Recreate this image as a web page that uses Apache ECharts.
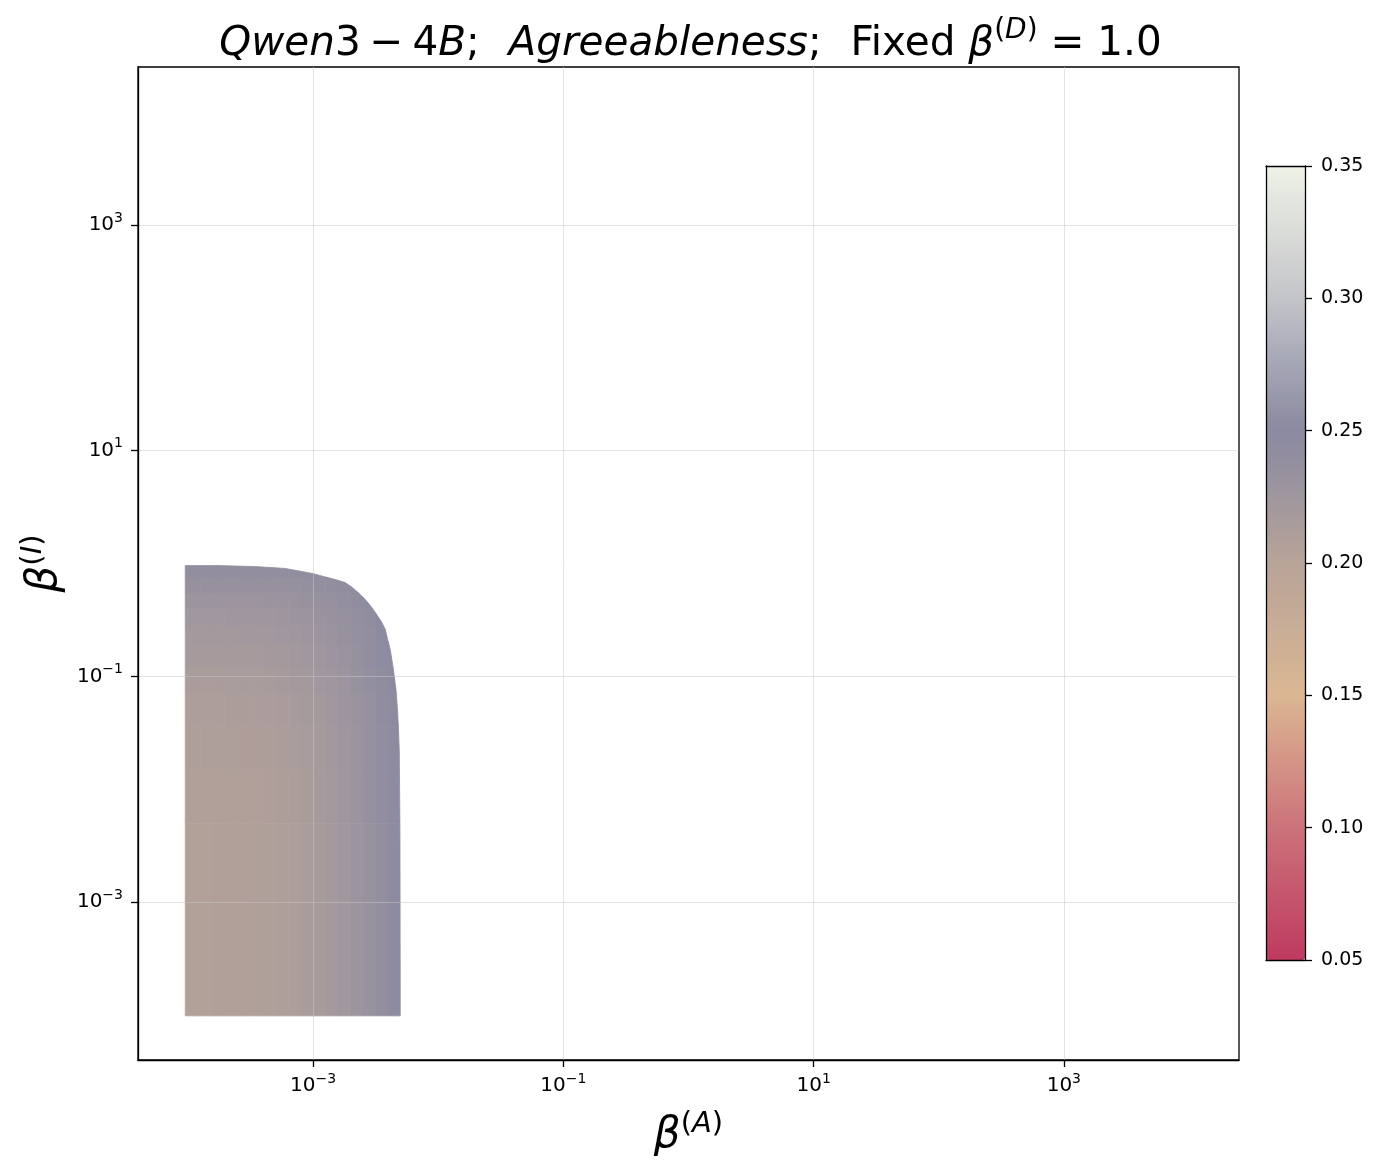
<!DOCTYPE html>
<html>
<head>
<meta charset="utf-8">
<title>Qwen3-4B Agreeableness</title>
<script src="https://cdn.jsdelivr.net/npm/echarts@6/dist/echarts.min.js"></script>
<style>
  html, body { margin: 0; padding: 0; background: #fff; }
  #chart { width: 1381px; height: 1173px; }
</style>
</head>
<body>
<div id="chart"></div>
<script>
  // beta^(A) cell edges (columns, left to right)
  var betaAEdges = [9.5e-5, 1.26e-4, 1.58e-4, 2.0e-4, 2.51e-4, 3.16e-4, 3.98e-4, 5.01e-4, 6.31e-4, 7.94e-4,
    1.0e-3, 1.26e-3, 1.58e-3, 2.0e-3, 2.51e-3, 3.16e-3, 3.98e-3, 5.0e-3]
  // beta^(I) cell edges (rows, bottom to top)
  var betaIEdges = [9.8e-5, 1e-3, 5e-3, 1.5e-2, 3.5e-2, 0.07, 0.12, 0.19, 0.28, 0.4, 0.55, 0.75, 1.0]
  // value of every cell, one row per beta^(I) band (bottom to top)
  var cellValues = [
    [0.206, 0.206, 0.207, 0.207, 0.207, 0.208, 0.208, 0.209, 0.211, 0.214, 0.216, 0.219, 0.223, 0.227, 0.233, 0.239, 0.246],
    [0.206, 0.206, 0.207, 0.207, 0.207, 0.208, 0.208, 0.209, 0.211, 0.213, 0.216, 0.219, 0.223, 0.228, 0.233, 0.239, 0.246],
    [0.207, 0.207, 0.207, 0.208, 0.208, 0.208, 0.209, 0.210, 0.212, 0.214, 0.217, 0.220, 0.224, 0.228, 0.234, 0.240, 0.246],
    [0.209, 0.209, 0.209, 0.209, 0.210, 0.210, 0.211, 0.212, 0.214, 0.216, 0.218, 0.221, 0.225, 0.229, 0.235, 0.241, 0.247],
    [0.211, 0.211, 0.211, 0.212, 0.212, 0.213, 0.213, 0.214, 0.216, 0.218, 0.220, 0.223, 0.227, 0.231, 0.236, 0.242, 0.247],
    [0.214, 0.214, 0.214, 0.215, 0.215, 0.215, 0.216, 0.217, 0.219, 0.220, 0.223, 0.225, 0.229, 0.233, 0.238, 0.243, 0.248],
    [0.217, 0.217, 0.217, 0.217, 0.218, 0.218, 0.219, 0.220, 0.221, 0.223, 0.225, 0.228, 0.231, 0.235, 0.240, 0.245, 0.248],
    [0.220, 0.220, 0.220, 0.220, 0.221, 0.221, 0.222, 0.223, 0.224, 0.226, 0.228, 0.230, 0.233, 0.237, 0.241, 0.246, 0.248],
    [0.223, 0.223, 0.223, 0.224, 0.224, 0.224, 0.225, 0.226, 0.227, 0.229, 0.231, 0.233, 0.236, 0.239, 0.243, 0.247, 0.248],
    [0.228, 0.228, 0.228, 0.228, 0.229, 0.229, 0.230, 0.230, 0.231, 0.233, 0.234, 0.236, 0.239, 0.242, 0.245, 0.248, 0.248],
    [0.234, 0.234, 0.234, 0.234, 0.234, 0.235, 0.235, 0.235, 0.236, 0.237, 0.238, 0.240, 0.242, 0.244, 0.247, 0.248, 0.248],
    [0.240, 0.240, 0.240, 0.240, 0.241, 0.241, 0.241, 0.241, 0.242, 0.243, 0.243, 0.244, 0.245, 0.247, 0.248, 0.248, 0.248]
  ]
  // outline of the filled area: top edge, round corner, right edge (top-left to bottom-right)
  var edgeBetaA = [9.5e-5, 1.74e-4, 3.44e-4, 5.97e-4, 9.82e-4, 1.50e-3, 1.80e-3, 2.05e-3, 2.29e-3, 2.61e-3,
    2.86e-3, 3.02e-3, 3.25e-3, 3.50e-3, 3.77e-3, 3.94e-3, 4.13e-3, 4.38e-3, 4.59e-3, 4.72e-3,
    4.81e-3, 4.88e-3, 4.94e-3, 4.97e-3]
  var edgeBetaI = [0.959, 0.959, 0.94, 0.904, 0.817, 0.721, 0.679, 0.614, 0.553, 0.48,
    0.425, 0.392, 0.347, 0.307, 0.261, 0.212, 0.173, 0.115, 0.0767, 0.0511,
    0.034, 0.0217, 0.00416, 9.8e-5]

  var tickExponents = [-3, -1, 1, 3]
  var colorbarTicks = [0.05, 0.10, 0.15, 0.20, 0.25, 0.30, 0.35]
  // colormap, evenly spaced from 0.05 to 0.35
  var colorStops = ['#bf3a61', '#c5566d', '#cc727a', '#d49486', '#dbb792', '#c9ad96', '#b8a498',
    '#9f969e', '#8a89a0', '#a5a6b5', '#c3c4c9', '#dadcd8', '#eef2e7']

  var FONT = 'DejaVu Sans'

  // build heatmap cells in log10 space
  var cells = []
  for (var r = 0; r < cellValues.length; r++) {
    for (var c = 0; c < cellValues[r].length; c++) {
      cells.push([
        Math.log10(betaAEdges[c]), Math.log10(betaAEdges[c + 1]),
        Math.log10(betaIEdges[r]), Math.log10(betaIEdges[r + 1]),
        cellValues[r][c]
      ])
    }
  }
  // outline polygon: bottom-left corner, then top edge and right edge
  var outline = [[Math.log10(edgeBetaA[0]), Math.log10(edgeBetaI[edgeBetaI.length - 1])]]
  for (var k = 0; k < edgeBetaA.length; k++) {
    outline.push([Math.log10(edgeBetaA[k]), Math.log10(edgeBetaI[k])])
  }

  function cross (p, q, axis, bound) {
    var t = (bound - p[axis]) / (q[axis] - p[axis])
    return [p[0] + t * (q[0] - p[0]), p[1] + t * (q[1] - p[1])]
  }
  // clip polygon to one side of a vertical / horizontal line
  function clipHalf (pts, axis, bound, keepGreater) {
    var out = []
    for (var k = 0; k < pts.length; k++) {
      var cur = pts[k]
      var prev = pts[(k + pts.length - 1) % pts.length]
      var inCur = keepGreater ? cur[axis] >= bound : cur[axis] <= bound
      var inPrev = keepGreater ? prev[axis] >= bound : prev[axis] <= bound
      if (inCur) {
        if (!inPrev) out.push(cross(prev, cur, axis, bound))
        out.push(cur)
      } else if (inPrev) {
        out.push(cross(prev, cur, axis, bound))
      }
    }
    return out
  }

  function supLabel (v) {
    var e = v < 0 ? '\u2212' + (-v) : String(v)
    return '{b|10}{s|' + e + '}'
  }
  var tickRich = {
    b: { fontFamily: FONT, fontSize: 20, color: '#000', lineHeight: 28 },
    s: { fontFamily: FONT, fontSize: 14, color: '#000', lineHeight: 14, verticalAlign: 'top' }
  }
  var nameRich = {
    b: { fontFamily: FONT, fontSize: 42, fontStyle: 'italic', color: '#000', lineHeight: 52 },
    p: { fontFamily: FONT, fontSize: 29, color: '#000', lineHeight: 29, verticalAlign: 'top' },
    s: { fontFamily: FONT, fontSize: 29, fontStyle: 'italic', color: '#000', lineHeight: 29, verticalAlign: 'top' }
  }

  var chart = echarts.init(document.getElementById('chart'))
  var option = {
    backgroundColor: '#fff',
    animation: false,
    title: {
      text: '{i|Qwen}{r|3}{t| }{r|\u2212}{t| }{r|4}{i|B}{r|;  }{u| }{i|Agreeableness}{r|;  }{u| }{r|Fixed }{i|\u03b2}{sp|(}{si|D}{sp|)}{r| = 1.0}',
      left: 'center',
      top: 12,
      textStyle: {
        fontWeight: 'normal',
        rich: {
          i: { fontFamily: FONT, fontSize: 40.5, fontStyle: 'italic', fontWeight: 'normal', color: '#000', lineHeight: 54 },
          r: { fontFamily: FONT, fontSize: 40.5, fontWeight: 'normal', color: '#000', lineHeight: 54 },
          t: { fontFamily: FONT, fontSize: 28, fontWeight: 'normal', color: '#000', lineHeight: 28 },
          u: { fontFamily: FONT, fontSize: 10, fontWeight: 'normal', color: '#000', lineHeight: 10 },
          sp: { fontFamily: FONT, fontSize: 28, fontWeight: 'normal', color: '#000', lineHeight: 28, verticalAlign: 'top' },
          si: { fontFamily: FONT, fontSize: 28, fontStyle: 'italic', fontWeight: 'normal', color: '#000', lineHeight: 28, verticalAlign: 'top' }
        }
      }
    },
    grid: [
      { left: 138, top: 67, width: 1101, height: 993, show: true, borderColor: '#000', borderWidth: 1.3, backgroundColor: 'transparent' },
      { left: 1266, top: 166, width: 39, height: 794 }
    ],
    xAxis: [
      {
        type: 'value', gridIndex: 0, min: -4.4, max: 4.4, z: 3,
        name: '{b|\u03b2}{p|(}{s|A}{p|)}', nameLocation: 'middle', nameGap: 50,
        nameTextStyle: { rich: nameRich },
        axisLine: { show: true, onZero: false, lineStyle: { color: '#000', width: 1.3 } },
        axisTick: { show: true, customValues: tickExponents, length: 7, lineStyle: { color: '#000', width: 1.3 } },
        axisLabel: { customValues: tickExponents, formatter: supLabel, margin: 12, rich: tickRich },
        splitLine: { show: true, lineStyle: { color: 'rgba(200,200,200,0.5)', width: 1 } }
      },
      { type: 'value', gridIndex: 1, min: 0, max: 1, position: 'bottom', z: 10,
        axisLine: { show: true, onZero: false, lineStyle: { color: '#000', width: 1.3 } },
        axisTick: { show: false }, axisLabel: { show: false }, splitLine: { show: false } },
      { type: 'value', gridIndex: 1, min: 0, max: 1, position: 'top', z: 10,
        axisLine: { show: true, onZero: false, lineStyle: { color: '#000', width: 1.3 } },
        axisTick: { show: false }, axisLabel: { show: false }, splitLine: { show: false } }
    ],
    yAxis: [
      {
        type: 'value', gridIndex: 0, min: -4.4, max: 4.4, z: 3,
        name: '{b|\u03b2}{p|(}{s|I}{p|)}', nameLocation: 'middle', nameGap: 67, nameRotate: 90,
        nameTextStyle: { rich: nameRich },
        axisLine: { show: true, onZero: false, lineStyle: { color: '#000', width: 1.3 } },
        axisTick: { show: true, customValues: tickExponents, length: 7, lineStyle: { color: '#000', width: 1.3 } },
        axisLabel: { customValues: tickExponents, formatter: supLabel, margin: 15, rich: tickRich },
        splitLine: { show: true, lineStyle: { color: 'rgba(200,200,200,0.5)', width: 1 } }
      },
      {
        type: 'value', gridIndex: 1, min: 0.05, max: 0.35, interval: 0.05, position: 'right', z: 10,
        axisLine: { show: true, onZero: false, lineStyle: { color: '#000', width: 1.3 } },
        axisTick: { show: true, customValues: colorbarTicks, length: 7, lineStyle: { color: '#000', width: 1.3 } },
        axisLabel: {
          customValues: colorbarTicks, margin: 16, fontFamily: FONT, fontSize: 19, color: '#000',
          formatter: function (v) { return v.toFixed(2) }
        },
        splitLine: { show: false }
      },
      { type: 'value', gridIndex: 1, min: 0, max: 1, position: 'left', z: 10,
        axisLine: { show: true, onZero: false, lineStyle: { color: '#000', width: 1.3 } },
        axisTick: { show: false }, axisLabel: { show: false }, splitLine: { show: false } }
    ],
    visualMap: {
      type: 'continuous', min: 0.05, max: 0.35, seriesIndex: 0, dimension: 4,
      left: 1266, top: 166, itemWidth: 39, itemHeight: 794, padding: 0,
      calculable: false, hoverLink: false, realtime: false,
      inRange: { color: colorStops }
    },
    series: [{
      type: 'custom',
      xAxisIndex: 0,
      yAxisIndex: 0,
      z: 2,
      encode: { x: [0, 1], y: [2, 3] },
      data: cells,
      renderItem: function (params, api) {
        var p0 = api.coord([api.value(0), api.value(2)])
        var p1 = api.coord([api.value(1), api.value(3)])
        var pts = outline.map(function (p) { return api.coord(p) })
        pts = clipHalf(pts, 0, p0[0], true)
        pts = clipHalf(pts, 0, p1[0], false)
        pts = clipHalf(pts, 1, p1[1], true)
        pts = clipHalf(pts, 1, p0[1], false)
        if (pts.length < 3) return null
        var col = api.visual('color')
        return {
          type: 'polygon',
          shape: { points: pts },
          style: { fill: col, stroke: col, lineWidth: 0.8 }
        }
      }
    }]
  }
  chart.setOption(option)
  window.addEventListener('resize', function () {
    chart.resize()
  })
</script>
</body>
</html>
